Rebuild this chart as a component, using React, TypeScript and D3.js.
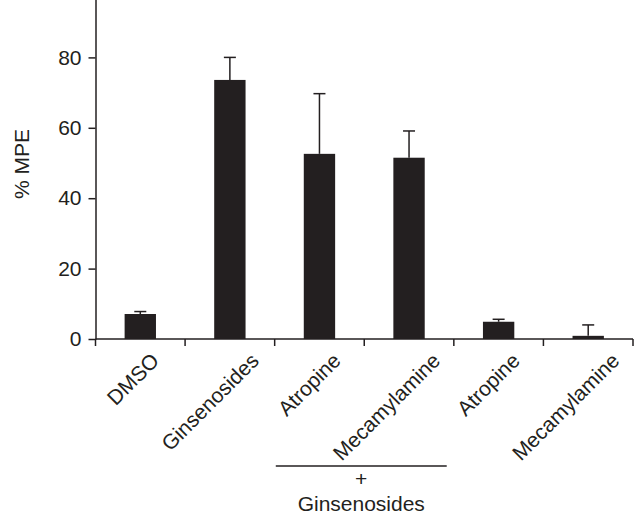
import * as d3 from "d3";
import { useEffect, useRef } from "react";

// groups
const groups = ["DMSO", "Ginsenosides", "Atropine", "Mecamylamine", "Atropine ", "Mecamylamine "];
const labels = ["DMSO", "Ginsenosides", "Atropine", "Mecamylamine", "Atropine", "Mecamylamine"];
const means = [7.1, 73.6, 52.6, 51.5, 4.9, 0.9];
const errs = [0.7, 6.4, 17.1, 7.6, 0.7, 3.1];
const yTicks = [0, 20, 40, 60, 80];
const bracketGroups = ["Atropine", "Mecamylamine"];
const bracketLabel = "Ginsenosides";

export default function App() {
    const svgRef = useRef(null);
    const width = 635;
    const height = 515;
    const ink = "#231f20";
    const font = "'Liberation Sans', Arial, sans-serif";
    const fs = 21;

    function draw() {
        const svg = d3.select(svgRef.current);
        svg.selectAll("*").remove();

        const x = d3.scaleBand(groups, [95.5, 633]).paddingInner(0.65).paddingOuter(0.325);
        const y = d3.scaleLinear([0, 100], [339, -13]);

        // y axis
        const yAxis = svg.append("g").attr("transform", "translate(95.5,0)")
            .call(d3.axisLeft(y).tickValues(yTicks).tickSize(7).tickPadding(7).tickSizeOuter(0));
        yAxis.selectAll("path,line").attr("stroke", ink).attr("stroke-width", 1.5);
        yAxis.selectAll("text").attr("font-family", font).attr("font-size", fs).attr("fill", ink);

        // x axis: ticks on band edges
        const edges = groups.map(g => x(g) - x.step() * x.paddingInner() / 2).concat([633]);
        const xAxisG = svg.append("g");
        xAxisG.append("line").attr("x1", 95.5).attr("x2", 633).attr("y1", y(0)).attr("y2", y(0))
            .attr("stroke", ink).attr("stroke-width", 1.5);
        xAxisG.selectAll("line.tk").data(edges).join("line").attr("class", "tk")
            .attr("x1", d => d).attr("x2", d => d).attr("y1", y(0)).attr("y2", y(0) + 7)
            .attr("stroke", ink).attr("stroke-width", 1.5);

        // bars
        svg.append("g").selectAll("rect").data(groups).join("rect")
            .attr("x", d => x(d))
            .attr("y", (d, i) => y(means[i]))
            .attr("width", x.bandwidth())
            .attr("height", (d, i) => y(0) - y(means[i]))
            .attr("fill", ink);

        // error bars (upper only)
        const eb = svg.append("g").attr("stroke", ink).attr("stroke-width", 1.5);
        groups.forEach((g, i) => {
            const cx = x(g) + x.bandwidth() / 2;
            eb.append("line").attr("x1", cx).attr("x2", cx).attr("y1", y(means[i])).attr("y2", y(means[i] + errs[i]));
            eb.append("line").attr("x1", cx - 6).attr("x2", cx + 6).attr("y1", y(means[i] + errs[i])).attr("y2", y(means[i] + errs[i]));
        });

        // category labels, rotated
        const lab = svg.append("g").selectAll("text").data(groups).join("text")
            .attr("font-family", font).attr("font-size", fs).attr("fill", ink)
            .attr("text-anchor", "end")
            .text((d, i) => labels[i]);
        lab.each(function (d) {
            const len = (this as SVGTextElement).getComputedTextLength();
            const cx = x(d) + x.bandwidth() / 2 + 10 + 0.16 * len;
            d3.select(this).attr("transform", `translate(${cx},362) rotate(-45)`);
        });

        // bracket "+ Ginsenosides"
        const bx1 = x(bracketGroups[0]) - 28;
        const bx2 = x(bracketGroups[1]) + x.bandwidth() + 22;
        const bmid = (bx1 + bx2) / 2;
        svg.append("line").attr("x1", bx1).attr("x2", bx2).attr("y1", 466).attr("y2", 466)
            .attr("stroke", ink).attr("stroke-width", 1.5);
        svg.append("text").attr("x", bmid).attr("y", 486).attr("text-anchor", "middle")
            .attr("font-family", font).attr("font-size", fs).attr("fill", ink).text("+");
        svg.append("text").attr("x", bmid).attr("y", 511).attr("text-anchor", "middle")
            .attr("font-family", font).attr("font-size", fs).attr("fill", ink).text(bracketLabel);

        // y title
        svg.append("text").attr("transform", "translate(29,164) rotate(-90)").attr("text-anchor", "middle")
            .attr("font-family", font).attr("font-size", fs).attr("fill", ink).text("% MPE");
    }

    useEffect(draw, []);

    return (
        <div style={{ position: "absolute", left: 0, top: 0 }}>
            <svg ref={svgRef} width={width} height={height} style={{ display: "block", background: "white" }}></svg>
        </div>
    );
}
